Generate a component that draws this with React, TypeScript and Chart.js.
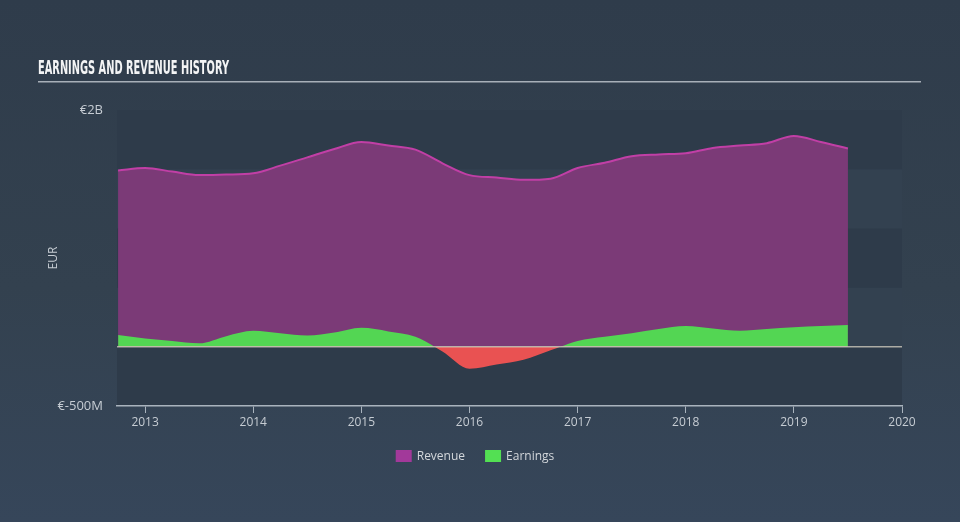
import React, { useEffect, useRef } from 'react';
import { Chart, registerables } from 'chart.js';

Chart.register(...registerables);

const chartTitle = 'EARNINGS AND REVENUE HISTORY';
const seriesNames = ['Revenue', 'Earnings'];
const axisTitle = 'EUR';

const periods = [
  2012.75, 2013, 2013.25, 2013.5, 2013.75, 2014, 2014.25, 2014.5, 2014.75,
  2015, 2015.25, 2015.5, 2015.75, 2016, 2016.25, 2016.5, 2016.75,
  2017, 2017.25, 2017.5, 2017.75, 2018, 2018.25, 2018.5, 2018.75,
  2019, 2019.25, 2019.5,
];
// billions of EUR
const revenue = [
  1.49, 1.51, 1.48, 1.45, 1.455, 1.465, 1.53, 1.6, 1.67,
  1.73, 1.7, 1.665, 1.55, 1.45, 1.43, 1.41, 1.42,
  1.51, 1.555, 1.61, 1.625, 1.635, 1.68, 1.7, 1.72,
  1.78, 1.73, 1.675,
];
const earnings = [
  0.1, 0.07, 0.05, 0.03, 0.09, 0.135, 0.115, 0.095, 0.12,
  0.16, 0.13, 0.085, -0.04, -0.185, -0.15, -0.11, -0.03,
  0.05, 0.085, 0.115, 0.15, 0.175, 0.155, 0.135, 0.15,
  0.165, 0.175, 0.185,
];

const xTicks = [2013, 2014, 2015, 2016, 2017, 2018, 2019, 2020];
const xMin = 2012.74;
const xMax = 2020;
const yTickValues = [-0.5, 2];
const yTickLabels = ['€-500M', '€2B'];
const bandEdges = [-0.5, 0, 0.5, 1, 1.5, 2];

const COLORS = {
  revenueFill: '#7b3a77',
  revenueLine: '#c13fa6',
  earningsUp: '#53d653',
  earningsDown: '#e95252',
  bandDark: '#2e3b4a',
  bandLight: '#334150',
  text: '#c6ccd3',
  axis: '#a9b3bd',
};

const decorPlugin = {
  id: 'decor',
  beforeDraw(chart: any) {
    const { ctx, chartArea: ca, scales } = chart;
    const y = scales.y;
    ctx.save();
    for (let i = 0; i < bandEdges.length - 1; i++) {
      const top = y.getPixelForValue(bandEdges[i + 1]);
      const bot = y.getPixelForValue(bandEdges[i]);
      ctx.fillStyle = i % 2 === 0 ? COLORS.bandDark : COLORS.bandLight;
      ctx.fillRect(ca.left, top, ca.right - ca.left, bot - top);
    }
    ctx.restore();
  },
  afterDatasetsDraw(chart: any) {
    const { ctx, chartArea: ca, scales } = chart;
    const y0 = scales.y.getPixelForValue(0);
    ctx.save();
    ctx.strokeStyle = 'rgba(215,210,195,0.75)';
    ctx.lineWidth = 1.5;
    ctx.beginPath();
    ctx.moveTo(ca.left, y0);
    ctx.lineTo(ca.right, y0);
    ctx.stroke();
    ctx.restore();
  },
  afterDraw(chart: any) {
    const { ctx } = chart;
    ctx.save();
    // title
    ctx.font = 'bold 20px "DejaVu Sans Condensed", "Liberation Sans Narrow", "DejaVu Sans", sans-serif';
    ctx.fillStyle = '#f3f4f5';
    ctx.textBaseline = 'alphabetic';
    ctx.textAlign = 'left';
    const w = ctx.measureText(chartTitle).width;
    ctx.save();
    ctx.translate(38, 74);
    ctx.scale(191 / w, 1);
    ctx.fillText(chartTitle, 0, 0);
    ctx.restore();
    ctx.fillStyle = '#a7afb8';
    ctx.fillRect(38, 81, 883, 1.5);

    // legend
    ctx.font = '12px "Open Sans", sans-serif';
    ctx.textBaseline = 'middle';
    const legendBox = ['#a2399a', '#53e053'];
    const widths = seriesNames.map((n) => ctx.measureText(n).width);
    const box = 16, gap = 5, itemGap = 20;
    const total = widths.reduce((a, b) => a + b, 0) + seriesNames.length * (box + gap) + itemGap * (seriesNames.length - 1);
    let x = 475 - total / 2;
    const cy = 456;
    seriesNames.forEach((n, i) => {
      ctx.fillStyle = legendBox[i];
      ctx.fillRect(x, cy - 6, box, 12);
      x += box + gap;
      ctx.fillStyle = '#d3d7db';
      ctx.fillText(n, x, cy + 0.5);
      x += widths[i] + itemGap;
    });
    ctx.restore();
  },
};

export default function App() {
  const ref = useRef<HTMLCanvasElement | null>(null);

  useEffect(() => {
    if (!ref.current) return;
    const chart = new Chart(ref.current, {
      type: 'line',
      data: {
        datasets: [
          {
            label: seriesNames[1],
            data: periods.map((p, i) => ({ x: p, y: earnings[i] })),
            borderWidth: 0,
            borderColor: 'rgba(0,0,0,0)',
            pointRadius: 0,
            tension: 0.4,
            cubicInterpolationMode: 'monotone',
            fill: { target: 'origin', above: COLORS.earningsUp, below: COLORS.earningsDown },
            order: 0,
          },
          {
            label: seriesNames[0],
            data: periods.map((p, i) => ({ x: p, y: revenue[i] })),
            borderWidth: 2,
            borderColor: COLORS.revenueLine,
            backgroundColor: COLORS.revenueFill,
            pointRadius: 0,
            tension: 0.4,
            cubicInterpolationMode: 'monotone',
            fill: 'origin',
            order: 1,
          },
        ],
      } as any,
      options: {
        animation: false,
        responsive: false,
        maintainAspectRatio: false,
        layout: { padding: { left: 0, right: 58, top: 110, bottom: 86 } },
        plugins: {
          legend: { display: false },
          tooltip: { enabled: false },
        },
        scales: {
          x: {
            type: 'linear',
            min: xMin,
            max: xMax,
            afterBuildTicks: (scale: any) => {
              scale.ticks = xTicks.map((v) => ({ value: v }));
            },
            afterFit: (scale: any) => {
              scale.height = 30;
            },
            grid: {
              drawOnChartArea: false,
              drawTicks: true,
              tickLength: 7,
              color: COLORS.axis,
              lineWidth: 1,
            },
            border: { display: true, color: COLORS.axis, width: 1.5 },
            ticks: {
              color: COLORS.text,
              font: { family: '"Open Sans", sans-serif', size: 12 },
              padding: 2,
              maxRotation: 0,
              autoSkip: false,
              callback: (v: any) => String(v),
            },
          },
          y: {
            type: 'linear',
            min: -0.5,
            max: 2,
            afterBuildTicks: (scale: any) => {
              scale.ticks = yTickValues.map((v) => ({ value: v }));
            },
            afterFit: (scale: any) => {
              scale.width = 117;
            },
            grid: { display: false, drawTicks: false },
            border: { display: false },
            ticks: {
              color: COLORS.text,
              font: { family: '"Open Sans", sans-serif', size: 13 },
              padding: 14,
              autoSkip: false,
              callback: (v: any) => {
                const idx = yTickValues.indexOf(Number(v));
                return idx >= 0 ? yTickLabels[idx] : '';
              },
            },
            title: {
              display: true,
              text: axisTitle,
              color: COLORS.text,
              font: { family: '"Open Sans", sans-serif', size: 12 },
              padding: { top: 46, bottom: 0 },
            },
          },
        },
      } as any,
      plugins: [decorPlugin],
    });
    return () => chart.destroy();
  }, []);

  return (
    <div
      style={{
        position: 'fixed',
        left: 0,
        top: 0,
        width: 960,
        height: 522,
        background: 'linear-gradient(180deg, #2f3c4b 0%, #33414f 55%, #36465a 100%)',
      }}
    >
      <canvas ref={ref} width={960} height={522} style={{ display: 'block', width: 960, height: 522 }} />
    </div>
  );
}
